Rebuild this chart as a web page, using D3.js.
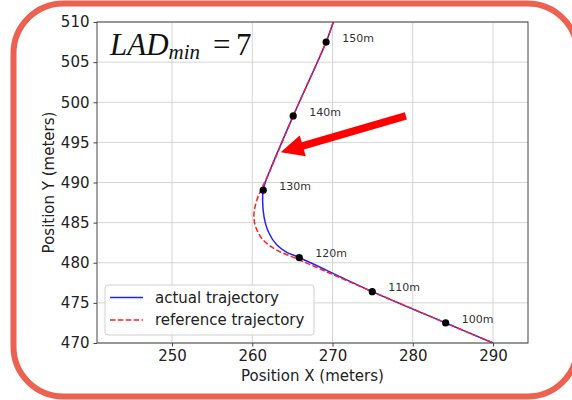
<!DOCTYPE html>
<html>
<head>
<meta charset="utf-8">
<script src="https://cdn.jsdelivr.net/npm/d3@7"></script>
<style>
  html, body { margin: 0; padding: 0; background: #fff; }
  svg { display: block; }
  .sans { font-family: "DejaVu Sans", sans-serif; }
  .math { font-family: "Liberation Serif", "DejaVu Serif", serif; }
</style>
</head>
<body>
<svg id="chart" width="572" height="400"></svg>
<script>
// Trajectory samples (meters)
const actualX = [270.1, 269.2, 265.1, 262.2, 261.55, 261.37, 261.29, 261.46, 261.99, 263.04, 264.3, 265.85, 274.95, 284.1, 290.0];
const actualY = [510.0, 507.5, 498.3, 491.5, 489.8, 489.04, 487.8, 485.75, 483.89, 482.23, 481.3, 480.65, 476.4, 472.5, 470.0];

const referenceX = [270.1, 269.2, 265.1, 262.0, 261.2, 260.6, 260.25, 260.2, 260.45, 261.3, 263.0, 265.3, 274.95, 284.1, 290.0];
const referenceY = [510.0, 507.5, 498.3, 491.0, 489.3, 487.9, 486.5, 485.6, 484.4, 482.9, 481.6, 480.6, 476.4, 472.5, 470.0];

// Distance markers along the path
const markerX = [284.1, 274.95, 265.85, 261.37, 265.1, 269.2];
const markerY = [472.5, 476.4, 480.65, 489.04, 498.3, 507.5];
const markerLabels = ["100m", "110m", "120m", "130m", "140m", "150m"];

// Axis ticks
const xTicks = [250, 260, 270, 280, 290];
const yTicks = [470, 475, 480, 485, 490, 495, 500, 505, 510];

// Callout arrow (tail -> tip), in data coordinates
const arrowX = [279.14, 263.54];
const arrowY = [498.3, 493.77];

const seriesNames = ["actual trajectory", "reference trajectory"];

const svg = d3.select("#chart");

// Rounded frame
svg.append("rect")
  .attr("x", 13.5).attr("y", 3.5)
  .attr("width", 564).attr("height", 393)
  .attr("rx", 50).attr("ry", 50)
  .attr("fill", "#fff")
  .attr("stroke", "#ec6150")
  .attr("stroke-width", 6);

const plot = { left: 97, right: 528, top: 22, bottom: 343 };

const x = d3.scaleLinear().domain([240.65, 294.36]).range([plot.left, plot.right]);
const y = d3.scaleLinear().domain([470, 510]).range([plot.bottom, plot.top]);

const g = svg.append("g");

// Grid
g.append("g").selectAll("line").data(xTicks).join("line")
  .attr("x1", d => x(d)).attr("x2", d => x(d))
  .attr("y1", plot.top).attr("y2", plot.bottom)
  .attr("stroke", "#d4d4d4").attr("stroke-width", 1);
g.append("g").selectAll("line").data(yTicks).join("line")
  .attr("y1", d => y(d)).attr("y2", d => y(d))
  .attr("x1", plot.left).attr("x2", plot.right)
  .attr("stroke", "#d4d4d4").attr("stroke-width", 1);

// Clip for data lines
svg.append("defs").append("clipPath").attr("id", "plotclip")
  .append("rect").attr("x", plot.left).attr("y", plot.top)
  .attr("width", plot.right - plot.left).attr("height", plot.bottom - plot.top);

const line = d3.line().x(d => x(d[0])).y(d => y(d[1])).curve(d3.curveCatmullRom.alpha(0.5));

const actual = d3.zip(actualX, actualY);
const reference = d3.zip(referenceX, referenceY);

const lines = g.append("g").attr("clip-path", "url(#plotclip)");
lines.append("path").datum(actual)
  .attr("d", line).attr("fill", "none")
  .attr("stroke", "#2222ff").attr("stroke-width", 1.5);
lines.append("path").datum(reference)
  .attr("d", line).attr("fill", "none")
  .attr("stroke", "#ff2020").attr("stroke-width", 1.5)
  .attr("stroke-dasharray", "5.5,2.4");

// Markers and labels
const markers = d3.zip(markerX, markerY, markerLabels);
g.append("g").selectAll("circle").data(markers).join("circle")
  .attr("cx", d => x(d[0])).attr("cy", d => y(d[1]))
  .attr("r", 3.6).attr("fill", "#000");
g.append("g").selectAll("text").data(markers).join("text")
  .attr("class", "sans")
  .attr("x", d => x(d[0] + 2)).attr("y", d => y(d[1] + 0.5))
  .attr("dy", "0.35em")
  .attr("font-size", 11).attr("fill", "#333")
  .text(d => d[2]);

// Axes frame
g.append("rect")
  .attr("x", plot.left).attr("y", plot.top)
  .attr("width", plot.right - plot.left).attr("height", plot.bottom - plot.top)
  .attr("fill", "none").attr("stroke", "#444").attr("stroke-width", 1);

const xAxis = d3.axisBottom(x).tickValues(xTicks).tickSize(3.5).tickPadding(4).tickFormat(d3.format("d"));
const yAxis = d3.axisLeft(y).tickValues(yTicks).tickSize(3.5).tickPadding(4).tickFormat(d3.format("d"));

const gx = svg.append("g").attr("transform", `translate(0,${plot.bottom})`).call(xAxis);
const gy = svg.append("g").attr("transform", `translate(${plot.left},0)`).call(yAxis);
[gx, gy].forEach(a => {
  a.attr("font-family", null).attr("font-size", null);
  a.select(".domain").remove();
  a.selectAll(".tick line").attr("stroke", "#444");
  a.selectAll(".tick text").attr("class", "sans").attr("font-size", 15).attr("fill", "#222");
});

// Axis titles
svg.append("text").attr("class", "sans")
  .attr("x", (plot.left + plot.right) / 2).attr("y", 381)
  .attr("text-anchor", "middle").attr("font-size", 15).attr("fill", "#222")
  .text("Position X (meters)");
svg.append("text").attr("class", "sans")
  .attr("transform", `translate(54,${(plot.top + plot.bottom) / 2}) rotate(-90)`)
  .attr("text-anchor", "middle").attr("font-size", 15).attr("fill", "#222")
  .text("Position Y (meters)");

// Title annotation: LAD_min = 7
const title = svg.append("text").attr("class", "math")
  .attr("x", 110).attr("y", 55)
  .attr("font-size", 31).attr("fill", "#111");
title.append("tspan").attr("font-style", "italic").text("LAD");
title.append("tspan").attr("font-style", "italic").attr("font-size", 21).attr("dy", 4).text("min");
title.append("tspan").attr("x", 213).attr("dy", -4).text("=");
title.append("tspan").attr("x", 236).attr("font-size", 31).text("7");

// Callout arrow
(function () {
  const tx = x(arrowX[0]), ty = y(arrowY[0]);
  const hx = x(arrowX[1]), hy = y(arrowY[1]);
  const dx = hx - tx, dy = hy - ty;
  const len = Math.hypot(dx, dy);
  const ux = dx / len, uy = dy / len;
  const px = -uy, py = ux;
  const sw = 3.8, hw = 10.8, hl = 23;
  const bx = hx - ux * hl, by = hy - uy * hl;
  const pts = [
    [tx + px * sw, ty + py * sw],
    [bx + px * sw, by + py * sw],
    [bx + px * hw, by + py * hw],
    [hx, hy],
    [bx - px * hw, by - py * hw],
    [bx - px * sw, by - py * sw],
    [tx - px * sw, ty - py * sw]
  ];
  svg.append("polygon")
    .attr("points", pts.map(p => p.join(",")).join(" "))
    .attr("fill", "#ff0000");
})();

// Legend
const leg = svg.append("g");
leg.append("rect")
  .attr("x", 105).attr("y", 285).attr("width", 209).attr("height", 50)
  .attr("rx", 3).attr("fill", "#fff").attr("fill-opacity", 0.8)
  .attr("stroke", "#d0d0d0").attr("stroke-width", 1);
const legItems = [
  { name: seriesNames[0], color: "#2222ff", dash: null, y: 297.5 },
  { name: seriesNames[1], color: "#ff2020", dash: "5.5,2.4", y: 320 }
];
legItems.forEach(it => {
  leg.append("line")
    .attr("x1", 110).attr("x2", 143).attr("y1", it.y).attr("y2", it.y)
    .attr("stroke", it.color).attr("stroke-width", 1.5)
    .attr("stroke-dasharray", it.dash);
  leg.append("text").attr("class", "sans")
    .attr("x", 155).attr("y", it.y).attr("dy", "0.35em")
    .attr("font-size", 15).attr("fill", "#222")
    .text(it.name);
});
</script>
</body>
</html>
